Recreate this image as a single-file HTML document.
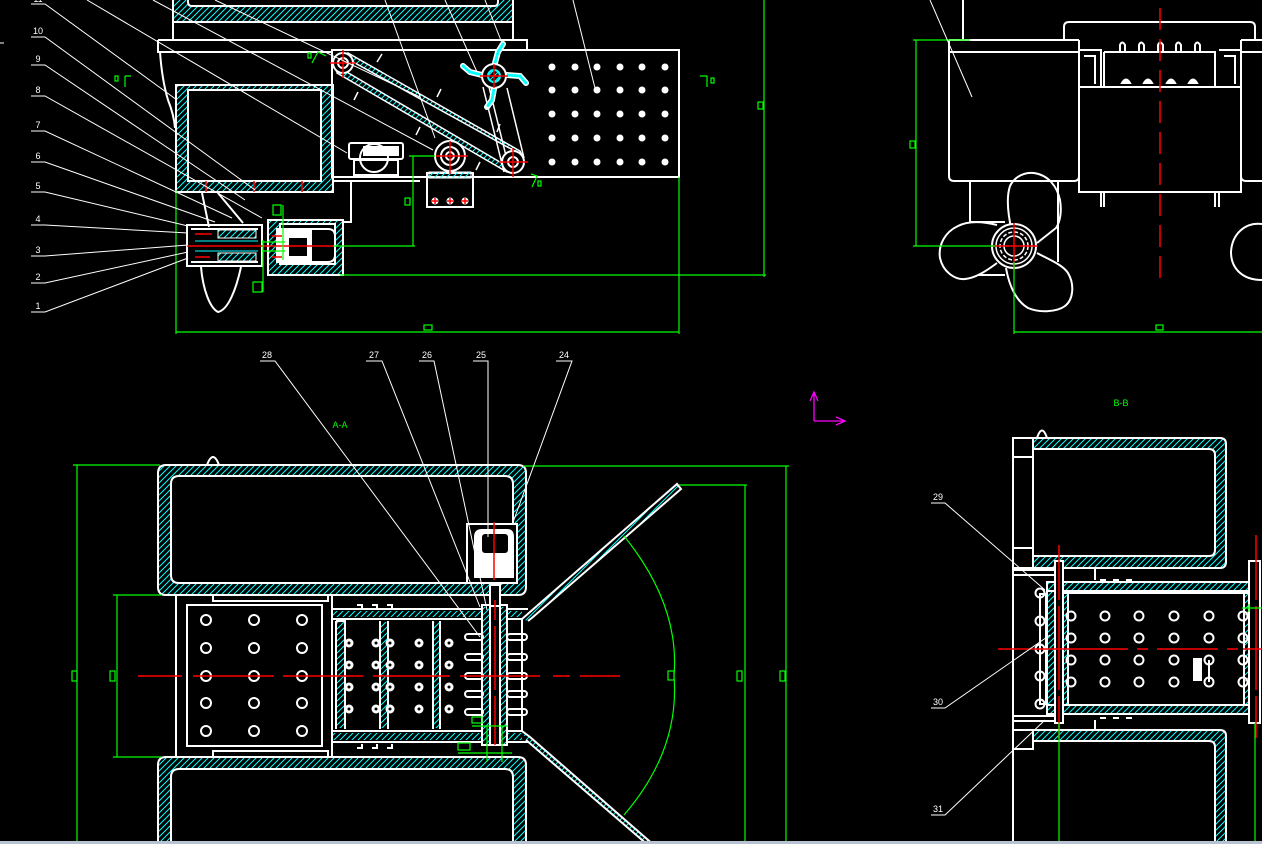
<!DOCTYPE html>
<html><head><meta charset="utf-8"><style>
html,body{margin:0;padding:0;background:#000;}
svg{display:block;}
text{font-family:"Liberation Sans",sans-serif;}
</style></head><body>
<svg width="1262" height="844" viewBox="0 0 1262 844" xmlns="http://www.w3.org/2000/svg">
<defs>
<pattern id="h" width="6" height="6" patternUnits="userSpaceOnUse">
<path d="M-1,1 L1,-1 M0,6 L6,0 M5,7 L7,5" stroke="#00ffff" stroke-width="1"/>
</pattern>
</defs>
<rect width="1262" height="844" fill="#000"/>

<!-- ================= TOP-LEFT VIEW ================= -->
<g stroke="#fff" stroke-width="2" fill="none">
<!-- top hatched block -->
<path d="M173,-3 H513 V22 H173 Z M188,-6 H498 V2 Q498,6 494,6 H192 Q188,6 188,2 Z" fill="url(#h)" fill-rule="evenodd"/>
<path d="M173,22 V40 M513,22 V40"/>
<path d="M158,40 H527 V50 M158,40 V52 H332"/>
<path d="M160,52 Q162,80 168,100 Q174,115 175,128"/>
<!-- left box -->
<path d="M176,85 H333 V192 H176 Z M188,90 H321 V181 H188 Z" fill="url(#h)" fill-rule="evenodd"/>
<!-- conveyor frame / plate -->
<path d="M332,50 H679 V177 H332 Z"/>
<path d="M333,181 H420 M351,181 V222 H343"/>
<!-- motor housing -->
<path d="M268,220 H343 V275 H268 Z M280,224 H335 V264 H280 Z" fill="url(#h)" fill-rule="evenodd"/>
<path d="M277,229 H328 Q335,229 335,236 V255 Q335,262 328,262 H277 Z"/>
<rect x="277" y="229" width="35" height="33" fill="#fff" stroke="none"/>
<rect x="289" y="238" width="18" height="18" fill="#000" stroke="none"/>
<!-- shaft assembly -->
<path d="M187,225 H262 V266 H187 Z"/>
<path d="M191,229 H258 M191,262 H258"/>
<rect x="218" y="230" width="38" height="8" fill="url(#h)" stroke-width="1"/>
<rect x="218" y="253" width="38" height="8" fill="url(#h)" stroke-width="1"/>
<path d="M195,241 H258 M195,251 H258" stroke="#00ffff" stroke-width="1"/>
<!-- propeller blades -->
<path d="M202,193 L209,227 M218,193 L243,223" />
<path d="M201,267 C203,290 210,308 218,312 C228,310 236,290 241,267"/>
<!-- gear motor -->
<rect x="349" y="143" width="54" height="16" rx="2"/>
<circle cx="374" cy="158" r="14"/>
<rect x="354" y="160" width="44" height="15"/>
<rect x="364" y="147" width="34" height="8" fill="#fff"/>
<!-- bracket under pulley -->
<rect x="427" y="173" width="46" height="34"/>
<rect x="429" y="172" width="42" height="6" fill="url(#h)" stroke-width="1"/>
</g>

<!-- belts -->
<g stroke="#fff" stroke-width="1.5">
<path d="M348,53 L520,151 L522,155 L346,58 Z" fill="url(#h)"/>
<path d="M337,73 L507,172 L510,168 L340,68 Z" fill="url(#h)"/>
<path d="M336,56 Q332,64 337,72" fill="none"/>
<path d="M483,87 L504,172 M489,87 L509,168 M507,88 L524,158" fill="none"/>
<path d="M377,62 L382,54 M437,97 L441,89 M497,132 L500,124 M358,92 L354,100 M420,127 L416,135 M480,162 L476,170" fill="none"/>
</g>
<!-- spinner arms -->
<g stroke="#fff" stroke-width="6" stroke-linecap="round" fill="none">
<path d="M482,75 L470,72 L463,66"/><path d="M507,75 L520,76 L526,83"/>
<path d="M495,63 L498,52 L503,44"/><path d="M494,89 L492,100 L487,107"/>
</g>
<g stroke="#00ffff" stroke-width="3" stroke-linecap="round" fill="none" stroke-dasharray="2 2">
<path d="M482,75 L470,72 L463,66"/><path d="M507,75 L520,76 L526,83"/>
<path d="M495,63 L498,52 L503,44"/><path d="M494,89 L492,100 L487,107"/>
</g>
<!-- pulleys -->
<g stroke="#fff" stroke-width="2" fill="#000">
<circle cx="343" cy="63" r="10"/><circle cx="343" cy="63" r="5"/>
<circle cx="450" cy="156" r="15"/><circle cx="450" cy="156" r="9"/><circle cx="450" cy="156" r="4"/>
<circle cx="513" cy="162" r="11"/><circle cx="513" cy="162" r="5"/>
<circle cx="494" cy="76" r="12"/>
</g>
<circle cx="494" cy="76" r="6" fill="url(#h)" stroke="#00ffff" stroke-width="2"/>
<g fill="#fff" stroke="#fff"><circle cx="435" cy="201" r="3"/><circle cx="450" cy="201" r="3"/><circle cx="465" cy="201" r="3"/></g>
<g stroke="#ff0000" stroke-width="1.5">
<path d="M330,63 H356 M343,50 V78"/>
<path d="M436,156 H468 M450,141 V174"/>
<path d="M499,162 H528 M513,148 V177"/>
<path d="M480,76 H508 M494,64 V88"/>
<path d="M432,201 H438 M435,198 V204 M447,201 H453 M450,198 V204 M462,201 H468 M465,198 V204"/>
<path d="M187,246 H333"/>
<path d="M206,181 V192 M254,181 V192 M302,181 V192"/>
<path d="M195,234 H212 M195,257 H210 M272,236 H282 M272,257 H282"/>
</g>
<!-- perforated plate holes -->
<g fill="#fff">
<circle cx="552" cy="67" r="3.5"/><circle cx="575" cy="67" r="3.5"/><circle cx="597" cy="67" r="3.5"/><circle cx="620" cy="67" r="3.5"/><circle cx="642" cy="67" r="3.5"/><circle cx="665" cy="67" r="3.5"/>
<circle cx="552" cy="90" r="3.5"/><circle cx="575" cy="90" r="3.5"/><circle cx="597" cy="90" r="3.5"/><circle cx="620" cy="90" r="3.5"/><circle cx="642" cy="90" r="3.5"/><circle cx="665" cy="90" r="3.5"/>
<circle cx="552" cy="114" r="3.5"/><circle cx="575" cy="114" r="3.5"/><circle cx="597" cy="114" r="3.5"/><circle cx="620" cy="114" r="3.5"/><circle cx="642" cy="114" r="3.5"/><circle cx="665" cy="114" r="3.5"/>
<circle cx="552" cy="138" r="3.5"/><circle cx="575" cy="138" r="3.5"/><circle cx="597" cy="138" r="3.5"/><circle cx="620" cy="138" r="3.5"/><circle cx="642" cy="138" r="3.5"/><circle cx="665" cy="138" r="3.5"/>
<circle cx="552" cy="162" r="3.5"/><circle cx="575" cy="162" r="3.5"/><circle cx="597" cy="162" r="3.5"/><circle cx="620" cy="162" r="3.5"/><circle cx="642" cy="162" r="3.5"/><circle cx="665" cy="162" r="3.5"/>
</g>
<!-- top-left green dims -->
<g stroke="#00ff00" stroke-width="1.2" fill="none">
<path d="M176,190 V334 M176,332 H679 M679,177 V334"/>
<path d="M340,275 H766 M764,0 V277"/>
<path d="M333,246 H415 M413,156 V246 M409,156 H435"/>
<rect x="424" y="325" width="8" height="5"/>
<rect x="758" y="102" width="5" height="7"/>
<rect x="405" y="198" width="5" height="7"/>
<path d="M125,76 H131 M125,76 V87"/><rect x="115" y="76" width="3" height="5"/>
<path d="M700,76 H707 V87"/><rect x="711" y="78" width="3" height="5"/>
<path d="M312,63 L318,52 L326,56"/><rect x="308" y="53" width="3" height="5"/>
<path d="M532,187 L537,176 L531,174"/><rect x="538" y="181" width="3" height="5"/>
<path d="M273,205 H281 V215 H273 Z M283,205 V260 M262,242 H285 M262,251 H285"/>
<path d="M253,282 H262 V292 H253 Z M263,240 V292"/>
</g>

<!-- leaders top-left -->
<g stroke="#fff" stroke-width="1" fill="none">
<path d="M31,37 H45 L255,190"/>
<path d="M31,65 H45 L245,200"/>
<path d="M31,96 H45 L262,218"/>
<path d="M31,131 H45 L232,218"/>
<path d="M31,162 H45 L215,222"/>
<path d="M31,192 H45 L188,226"/>
<path d="M31,225 H45 L188,233"/>
<path d="M31,256 H45 L188,245"/>
<path d="M31,283 H45 L188,252"/>
<path d="M31,312 H45 L188,258"/>
<path d="M31,4 H45 L177,100"/>
<path d="M87,0 L347,153"/>
<path d="M153,0 L433,150"/>
<path d="M215,0 L420,97"/>
<path d="M385,0 L435,138"/>
<path d="M445,0 L477,72"/>
<path d="M485,0 L502,43"/>
<path d="M573,0 L595,88"/>
<path d="M0,43 H4"/>
</g>
<g fill="#fff" font-size="9" text-anchor="middle">
<text x="38" y="34">10</text><text x="38" y="62">9</text><text x="38" y="93">8</text>
<text x="38" y="128">7</text><text x="38" y="159">6</text><text x="38" y="189">5</text>
<text x="38" y="222">4</text><text x="38" y="253">3</text><text x="38" y="280">2</text><text x="38" y="309">1</text>
<text x="38" y="2">11</text>
</g>

<!-- ================= TOP-RIGHT VIEW ================= -->
<g stroke="#fff" stroke-width="2" fill="none">
<path d="M963,0 V40"/>
<path d="M949,40 H1079 M949,52 H1079 M949,40 V176 Q949,181 954,181 H1074 Q1079,181 1079,176"/>
<path d="M1064,40 V27 Q1064,22 1069,22 H1250 Q1255,22 1255,27 V40"/>
<path d="M1079,40 V192 H1241 V40 M1079,87 H1241"/>
<path d="M1079,50 H1101 V87 M1219,50 H1241"/>
<path d="M1104,52 H1215 V87 M1104,52 V87"/>
<path d="M1084,56 H1095 V84 M1224,56 H1235 V84"/>
<path d="M1241,40 H1262 M1241,52 H1262 M1241,176 Q1241,181 1246,181 H1262"/>
<path d="M1101,192 V207 M1104,192 V207 M1215,192 V207 M1219,192 V207"/>
<path d="M1120,52 V45 Q1122,40 1125,45 V52 M1139,52 V45 Q1141,40 1144,45 V52 M1158,52 V45 Q1160,40 1163,45 V52 M1176,52 V45 Q1178,40 1181,45 V52 M1195,52 V45 Q1197,40 1200,45 V52"/>
<path d="M1122,83 Q1126,76 1130,83 Z M1144,83 Q1148,76 1152,83 Z M1167,83 Q1171,76 1175,83 Z M1189,83 Q1193,76 1197,83 Z" fill="#fff"/>
<path d="M970,182 V222 M1058,182 V262 M978,275 H1005 M970,222 H1005"/>
<!-- propeller -->
<path d="M997,225 C985,222 970,220 958,226 C945,232 938,245 940,258 C943,272 955,280 965,279 C975,278 985,272 997,263"/>
<path d="M1012,232 C1008,215 1006,198 1010,186 C1015,176 1025,172 1034,173 C1048,175 1057,186 1060,200 C1062,212 1060,222 1056,228 L1037,243"/>
<path d="M1037,253 C1050,260 1063,265 1068,273 C1075,285 1073,300 1065,306 C1057,312 1040,313 1028,308 C1018,302 1010,290 1006,268"/>
<path d="M1262,224 C1245,222 1232,234 1231,252 C1231,268 1242,280 1262,280"/>
</g>
<g stroke="#fff" fill="#000">
<circle cx="1014" cy="246" r="22" stroke-width="2"/>
<circle cx="1014" cy="246" r="18" stroke-width="1.5"/>
<circle cx="1014" cy="246" r="14" stroke-width="1.5" stroke-dasharray="4 2"/>
<circle cx="1014" cy="246" r="10" stroke-width="1.5"/>
</g>
<g stroke="#ff0000" stroke-width="1.5">
<path d="M1160,8 V278" stroke-dasharray="22 9"/>
<path d="M991,246 H1038 M1014,223 V270"/>
</g>
<g stroke="#00ff00" stroke-width="1.2" fill="none">
<path d="M913,40 H970 M916,40 V246 M913,246 H995"/>
<rect x="910" y="141" width="5" height="7"/>
<path d="M1014,262 V334 M1014,332 H1262"/>
<rect x="1156" y="325" width="7" height="5"/>
</g>
<path d="M930,0 L972,97" stroke="#fff" stroke-width="1"/>

<!-- ================= A-A VIEW ================= -->
<g stroke="#fff" stroke-width="2" fill="none">
<path d="M207,465 Q213,449 219,465"/>
<path d="M166,465 H518 Q526,465 526,473 V587 Q526,595 518,595 H166 Q158,595 158,587 V473 Q158,465 166,465 Z M179,476 H505 Q513,476 513,484 V575 Q513,583 505,583 H179 Q171,583 171,575 V484 Q171,476 179,476 Z" fill="url(#h)" fill-rule="evenodd"/>
<path d="M166,757 H518 Q526,757 526,765 V850 H158 V765 Q158,757 166,757 Z M179,769 H505 Q513,769 513,777 V850 H171 V777 Q171,769 179,769 Z" fill="url(#h)" fill-rule="evenodd"/>
<path d="M176,595 V757 M332,595 V757"/>
<path d="M213,595 V601 H328 V595 M213,757 V751 H328 V757"/>
<rect x="187" y="605" width="135" height="141"/>
<!-- right section strips -->
<path d="M332,609 H482 M332,619 H482 M507,609 H528 M507,619 H522" />
<rect x="333" y="611" width="149" height="6" fill="url(#h)" stroke="none"/>
<rect x="507" y="611" width="15" height="6" fill="url(#h)" stroke="none"/>
<path d="M332,731 H482 M332,742 H482 M507,731 H522 M507,742 H528"/>
<rect x="333" y="733" width="149" height="7" fill="url(#h)" stroke="none"/>
<rect x="507" y="733" width="15" height="7" fill="url(#h)" stroke="none"/>
<path d="M336,621 V729 M336,621 H345 V729 M380,621 V729 M388,621 V729 M433,621 V729 M440,621 V729 M522,619 V731" />
<rect x="337" y="622" width="7" height="106" fill="url(#h)" stroke="none"/>
<rect x="381" y="622" width="6" height="106" fill="url(#h)" stroke="none"/>
<rect x="434" y="622" width="5" height="106" fill="url(#h)" stroke="none"/>
<path d="M357,605 h5 v4 M372,605 h5 v4 M387,605 h5 v4 M357,748 h5 v-4 M372,748 h5 v-4 M387,748 h5 v-4"/>
<!-- shaft -->
<path d="M482,605 V745 H507 V605 Z M490,607 V745 M500,607 V745"/>
<rect x="483" y="607" width="6" height="137" fill="url(#h)" stroke="none"/>
<rect x="501" y="607" width="5" height="137" fill="url(#h)" stroke="none"/>
<!-- fins -->
<rect x="465" y="634" width="18" height="6" rx="3"/><rect x="465" y="654" width="18" height="6" rx="3"/><rect x="465" y="673" width="18" height="6" rx="3"/><rect x="465" y="691" width="18" height="6" rx="3"/><rect x="465" y="709" width="18" height="6" rx="3"/>
<rect x="507" y="634" width="20" height="6" rx="3"/><rect x="507" y="654" width="20" height="6" rx="3"/><rect x="507" y="673" width="20" height="6" rx="3"/><rect x="507" y="691" width="20" height="6" rx="3"/><rect x="507" y="709" width="20" height="6" rx="3"/>
<!-- motor -->
<rect x="467" y="524" width="50" height="59" fill="#000"/>
<path d="M475,553 V537 Q475,530 482,530 H507 Q513,530 513,537 V577 H475 Z" fill="#fff"/>
<rect x="481" y="533" width="28" height="21" rx="4" fill="#000"/>
<rect x="490" y="585" width="10" height="21" fill="#000"/>
<!-- flaps -->
<path d="M522,619 L530,612 L677,484 L681,489 L533,617 L528,621" fill="url(#h)"/>
<path d="M522,731 L530,737 L655,846 L649,846 L526,740" fill="url(#h)"/>
</g>
<!-- A-A holes -->
<g stroke="#fff" stroke-width="2" fill="none">
<circle cx="206" cy="620" r="5"/><circle cx="254" cy="620" r="5"/><circle cx="302" cy="620" r="5"/>
<circle cx="206" cy="648" r="5"/><circle cx="254" cy="648" r="5"/><circle cx="302" cy="648" r="5"/>
<circle cx="206" cy="676" r="5"/><circle cx="254" cy="676" r="5"/><circle cx="302" cy="676" r="5"/>
<circle cx="206" cy="703" r="5"/><circle cx="254" cy="703" r="5"/><circle cx="302" cy="703" r="5"/>
<circle cx="206" cy="731" r="5"/><circle cx="254" cy="731" r="5"/><circle cx="302" cy="731" r="5"/>
</g>
<g fill="#fff">
<circle cx="349" cy="643" r="4.5"/><circle cx="376" cy="643" r="4.5"/><circle cx="390" cy="643" r="4.5"/><circle cx="419" cy="643" r="4.5"/><circle cx="449" cy="643" r="4.5"/>
<circle cx="349" cy="665" r="4.5"/><circle cx="376" cy="665" r="4.5"/><circle cx="390" cy="665" r="4.5"/><circle cx="419" cy="665" r="4.5"/><circle cx="449" cy="665" r="4.5"/>
<circle cx="349" cy="687" r="4.5"/><circle cx="376" cy="687" r="4.5"/><circle cx="390" cy="687" r="4.5"/><circle cx="419" cy="687" r="4.5"/><circle cx="449" cy="687" r="4.5"/>
<circle cx="349" cy="709" r="4.5"/><circle cx="376" cy="709" r="4.5"/><circle cx="390" cy="709" r="4.5"/><circle cx="419" cy="709" r="4.5"/><circle cx="449" cy="709" r="4.5"/>
</g>
<g fill="#000">
<circle cx="349" cy="643" r="1.5"/><circle cx="376" cy="643" r="1.5"/><circle cx="390" cy="643" r="1.5"/><circle cx="419" cy="643" r="1.5"/><circle cx="449" cy="643" r="1.5"/>
<circle cx="349" cy="665" r="1.5"/><circle cx="376" cy="665" r="1.5"/><circle cx="390" cy="665" r="1.5"/><circle cx="419" cy="665" r="1.5"/><circle cx="449" cy="665" r="1.5"/>
<circle cx="349" cy="687" r="1.5"/><circle cx="376" cy="687" r="1.5"/><circle cx="390" cy="687" r="1.5"/><circle cx="419" cy="687" r="1.5"/><circle cx="449" cy="687" r="1.5"/>
<circle cx="349" cy="709" r="1.5"/><circle cx="376" cy="709" r="1.5"/><circle cx="390" cy="709" r="1.5"/><circle cx="419" cy="709" r="1.5"/><circle cx="449" cy="709" r="1.5"/>
</g>
<g stroke="#ff0000" stroke-width="1.5" fill="none">
<path d="M138,676 H182 M193,676 H274 M283,676 H363 M373,676 H450 M460,676 H540 M553,676 H570 M580,676 H620"/>
<path d="M494,522 V580"/>
<path d="M495,600 V620 M495,626 V690 M495,696 V745"/>
</g>
<!-- A-A green -->
<g stroke="#00ff00" stroke-width="1.2" fill="none">
<path d="M73,465 H160 M77,465 V844"/>
<rect x="72" y="671" width="5" height="10"/>
<path d="M113,595 H162 M113,757 H162 M117,595 V757"/>
<rect x="110" y="671" width="5" height="10"/>
<path d="M523,466 H789 M786,466 V844"/>
<path d="M679,485 H747 M745,485 V844"/>
<rect x="668" y="671" width="6" height="9"/>
<rect x="737" y="671" width="5" height="10"/>
<rect x="780" y="671" width="5" height="10"/>
<path d="M624,536 Q680,605 674,676 Q680,750 624,815"/>
<path d="M472,726 H508 M458,753 H512 M487,726 V762 M502,726 V762"/>
<rect x="472" y="717" width="10" height="6"/>
<rect x="458" y="743" width="12" height="7"/>
</g>
<text x="340" y="428" fill="#00ff00" font-size="9" text-anchor="middle">A-A</text>
<!-- A-A leaders -->
<g stroke="#fff" stroke-width="1" fill="none">
<path d="M260,361 H275 L480,637"/>
<path d="M366,361 H382 L480,607"/>
<path d="M419,361 H434 L487,610"/>
<path d="M473,361 H488 V537"/>
<path d="M556,361 H572 L512,525"/>
</g>
<g fill="#fff" font-size="9" text-anchor="middle">
<text x="267" y="358">28</text><text x="374" y="358">27</text><text x="427" y="358">26</text><text x="481" y="358">25</text><text x="564" y="358">24</text>
</g>
<!-- UCS icon -->
<g stroke="#ff00ff" stroke-width="1.3" fill="none">
<path d="M814,421 V392 M810,401 L814,392 L818,401 M814,421 H845 M836,417 L845,421 L836,425"/>
</g>

<!-- ================= B-B VIEW ================= -->
<text x="1121" y="406" fill="#00ff00" font-size="9" text-anchor="middle">B-B</text>
<g stroke="#fff" stroke-width="2" fill="none">
<path d="M1037,438 Q1042,423 1047,438"/>
<path d="M1013,438 V844 M1033,438 V568 M1033,730 V749"/>
<rect x="1013" y="438" width="20" height="19"/>
<rect x="1013" y="548" width="20" height="20"/>
<rect x="1013" y="730" width="20" height="19"/>
<path d="M1033,438 H1220 Q1226,438 1226,444 V562 Q1226,568 1220,568 H1033 V556 H1209 Q1215,556 1215,550 V455 Q1215,449 1209,449 H1033 Z" fill="url(#h)"/>
<path d="M1033,730 H1220 Q1226,730 1226,736 V850 H1215 V747 Q1215,741 1209,741 H1033 Z" fill="url(#h)"/>
<path d="M1013,570 H1055 M1013,575 H1055 M1013,716 H1055 M1013,721 H1055"/>
<path d="M1095,568 V580 M1095,720 V730"/>
<!-- cage -->
<rect x="1047" y="582" width="203" height="9" fill="url(#h)"/>
<rect x="1047" y="705" width="203" height="9" fill="url(#h)"/>
<rect x="1047" y="591" width="8" height="114" fill="url(#h)"/>
<rect x="1063" y="593" width="5" height="112" fill="url(#h)"/>
<rect x="1244" y="593" width="5" height="112" fill="url(#h)"/>
<rect x="1068" y="593" width="176" height="112"/>
<rect x="1055" y="561" width="8" height="162" fill="#000"/>
<rect x="1249" y="561" width="11" height="162" fill="#000"/>
<rect x="1040" y="594" width="6" height="110"/>
<path d="M1100,580 h6 M1113,580 h6 M1126,580 h6 M1100,718 h6 M1113,718 h6 M1126,718 h6"/>
</g>
<g stroke="#fff" stroke-width="2" fill="none">
<circle cx="1071" cy="616" r="4.5"/><circle cx="1105" cy="616" r="4.5"/><circle cx="1139" cy="616" r="4.5"/><circle cx="1174" cy="616" r="4.5"/><circle cx="1209" cy="616" r="4.5"/><circle cx="1243" cy="616" r="4.5"/>
<circle cx="1071" cy="638" r="4.5"/><circle cx="1105" cy="638" r="4.5"/><circle cx="1139" cy="638" r="4.5"/><circle cx="1174" cy="638" r="4.5"/><circle cx="1209" cy="638" r="4.5"/><circle cx="1243" cy="638" r="4.5"/>
<circle cx="1071" cy="660" r="4.5"/><circle cx="1105" cy="660" r="4.5"/><circle cx="1139" cy="660" r="4.5"/><circle cx="1174" cy="660" r="4.5"/><circle cx="1209" cy="660" r="4.5"/><circle cx="1243" cy="660" r="4.5"/>
<circle cx="1071" cy="682" r="4.5"/><circle cx="1105" cy="682" r="4.5"/><circle cx="1139" cy="682" r="4.5"/><circle cx="1174" cy="682" r="4.5"/><circle cx="1209" cy="682" r="4.5"/><circle cx="1243" cy="682" r="4.5"/>
<circle cx="1040" cy="593" r="4.5"/><circle cx="1040" cy="621" r="4.5"/><circle cx="1040" cy="649" r="4.5"/><circle cx="1040" cy="676" r="4.5"/><circle cx="1040" cy="704" r="4.5"/>
<path d="M1209,660 V682"/>
</g>
<rect x="1193" y="658" width="9" height="23" fill="#fff"/>
<g stroke="#ff0000" stroke-width="1.5" fill="none">
<path d="M998,649 H1128 M1137,649 H1148 M1157,649 H1218 M1227,649 H1238 M1243,649 H1262"/>
<path d="M1059,545 V600 M1059,606 V690 M1059,696 V738"/>
<path d="M1256,535 V600 M1256,606 V690 M1256,696 V738"/>
</g>
<g stroke="#00ff00" stroke-width="1.2" fill="none">
<path d="M1059,723 V844 M1255,723 V844 M1242,608 H1262 M1249,604 V612"/>
</g>
<g stroke="#fff" stroke-width="1" fill="none">
<path d="M931,503 H945 L1045,590"/>
<path d="M931,708 H945 L1050,635"/>
<path d="M931,815 H945 L1045,720"/>
</g>
<g fill="#fff" font-size="9" text-anchor="middle">
<text x="938" y="500">29</text><text x="938" y="705">30</text><text x="938" y="812">31</text>
</g>

<!-- bottom status strip -->
<rect x="0" y="841" width="1262" height="3" fill="#b8c2d2"/>
</svg>
</body></html>
